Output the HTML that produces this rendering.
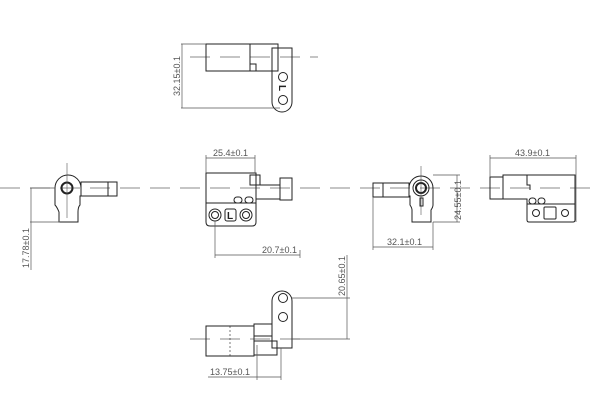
<!DOCTYPE html>
<html><head><style>body{margin:0;background:#fff}svg{display:block}</style></head><body>
<svg width="600" height="420" viewBox="0 0 600 420" xmlns="http://www.w3.org/2000/svg" font-family="Liberation Sans, sans-serif" font-size="9" fill="none" stroke="#222" stroke-width="1">
<g stroke="#666" stroke-width="0.8" stroke-dasharray="20,10">
<line x1="0" y1="188" x2="600" y2="188"/>
<line x1="190" y1="57" x2="318" y2="57"/>
<line x1="190" y1="339" x2="310" y2="339"/>
</g>
<!-- top view -->
<rect x="206" y="44" width="72" height="27"/>
<line x1="250" y1="44" x2="250" y2="71"/>
<rect x="250" y="64" width="6" height="7"/>
<path d="M272 48 H292 V102 A10 10 0 0 1 272 102 Z"/>
<circle cx="283" cy="77" r="4.5"/><circle cx="283" cy="100" r="4.5"/>
<text x="0" y="0" fill="#222" stroke="none" font-size="10" font-weight="bold" transform="translate(279,85) rotate(90)">L</text>
<g stroke="#555" stroke-width="0.7"><line x1="181" y1="44" x2="206" y2="44"/><line x1="181" y1="108" x2="280" y2="108"/><line x1="182" y1="44" x2="182" y2="108"/></g>
<text fill="#555" stroke="none" transform="translate(180,96) rotate(-90)">32.15±0.1</text>
<!-- front view -->
<path d="M206 173 H256 V222 Q256 226 252 226 H210 Q206 226 206 222 Z"/>
<line x1="206" y1="203" x2="256" y2="203"/>
<rect x="234" y="197" width="8" height="6" rx="3"/><rect x="245" y="197" width="8" height="6" rx="3"/>
<circle cx="215" cy="215" r="6"/><circle cx="215" cy="215" r="3.5"/>
<circle cx="246" cy="215" r="6"/><circle cx="246" cy="215" r="3.5"/>
<rect x="225" y="209" width="11" height="12" rx="2"/>
<text x="227" y="219" fill="#222" stroke="none" font-weight="bold" font-size="10">L</text>
<rect x="250" y="175" width="10" height="10"/>
<rect x="256" y="185" width="24" height="14"/>
<rect x="280" y="178" width="12" height="22"/>
<g stroke="#555" stroke-width="0.7"><line x1="206" y1="155" x2="206" y2="173"/><line x1="255" y1="155" x2="255" y2="173"/><line x1="206" y1="158" x2="255" y2="158"/>
<line x1="215" y1="221" x2="215" y2="258"/><line x1="300" y1="250" x2="300" y2="258"/><line x1="215" y1="255" x2="300" y2="255"/></g>
<text x="213" y="156" fill="#555" stroke="none">25.4±0.1</text>
<text x="262" y="253" fill="#555" stroke="none">20.7±0.1</text>
<!-- left view -->
<path d="M55 188 A13 13 0 0 1 81 188 V196 H80 V205 Q78 207 78 212 V222 H59 V212 Q57 207 55 205 Z"/>
<circle cx="67" cy="188" r="5.5" stroke-width="2"/>
<line x1="67" y1="163" x2="67" y2="218" stroke="#555" stroke-width="0.6"/>
<rect x="81" y="182" width="36" height="14"/>
<line x1="108" y1="182" x2="108" y2="196"/>
<g stroke="#555" stroke-width="0.7"><line x1="30" y1="188" x2="55" y2="188"/><line x1="30" y1="222" x2="60" y2="222"/><line x1="31" y1="188" x2="31" y2="270"/></g>
<text fill="#555" stroke="none" transform="translate(29,268) rotate(-90)">17.78±0.1</text>
<!-- right side view -->
<path d="M433 188 A12 12 0 0 0 409 188 V196 H410 V205 Q412 208 412 210 V222 H431 V210 Q433 207 433 205 Z"/>
<circle cx="421" cy="188" r="8"/>
<circle cx="421" cy="188" r="5" stroke-width="2"/>
<line x1="421" y1="166" x2="421" y2="215" stroke="#555" stroke-width="0.6"/>
<rect x="420" y="198" width="3" height="8"/>
<rect x="373" y="183" width="36" height="14"/>
<line x1="383" y1="183" x2="383" y2="197"/>
<g stroke="#555" stroke-width="0.7"><line x1="433" y1="175" x2="460" y2="175"/><line x1="433" y1="222" x2="460" y2="222"/><line x1="457" y1="175" x2="457" y2="222"/>
<line x1="373" y1="197" x2="373" y2="250"/><line x1="433" y1="222" x2="433" y2="250"/><line x1="373" y1="247" x2="433" y2="247"/></g>
<text fill="#555" stroke="none" transform="translate(461,220) rotate(-90)">24.55±0.1</text>
<text x="387" y="245" fill="#555" stroke="none">32.1±0.1</text>
<!-- far right view -->
<rect x="490" y="177" width="13" height="22"/>
<path d="M503 175 H575 V220 Q575 222 573 222 H529 Q527 222 527 220 V199 H503 Z"/>
<path d="M527 175 V185 H530 V190"/>
<line x1="527" y1="204" x2="575" y2="204"/>
<rect x="529" y="198" width="7" height="6" rx="3"/><rect x="538" y="198" width="7" height="6" rx="3"/>
<circle cx="536" cy="213" r="3.5"/><circle cx="565" cy="213" r="3.5"/>
<rect x="544" y="207" width="12" height="12" rx="1"/>
<g stroke="#555" stroke-width="0.7"><line x1="490" y1="155" x2="490" y2="177"/><line x1="576" y1="155" x2="576" y2="222"/><line x1="490" y1="158" x2="576" y2="158"/></g>
<text x="515" y="156" fill="#555" stroke="none">43.9±0.1</text>
<!-- bottom view -->
<path d="M272 301 A10 10 0 0 1 292 301 V348 H272 Z"/>
<circle cx="283" cy="298" r="4.5"/><circle cx="283" cy="317" r="4.5"/>
<rect x="206" y="326" width="48" height="30"/>
<rect x="254" y="324" width="18" height="12"/>
<rect x="254" y="341" width="23" height="14"/>
<line x1="230" y1="326" x2="230" y2="356" stroke-dasharray="2,2" stroke-width="0.6"/>
<g stroke="#555" stroke-width="0.7"><line x1="292" y1="298" x2="350" y2="298"/><line x1="292" y1="339" x2="350" y2="339"/><line x1="347" y1="255" x2="347" y2="339"/>
<line x1="257" y1="345" x2="257" y2="380"/><line x1="281" y1="348" x2="281" y2="380"/><line x1="208" y1="377" x2="281" y2="377"/></g>
<text fill="#555" stroke="none" transform="translate(345,296) rotate(-90)">20.65±0.1</text>
<text x="210" y="375" fill="#555" stroke="none">13.75±0.1</text>
</svg>
</body></html>
